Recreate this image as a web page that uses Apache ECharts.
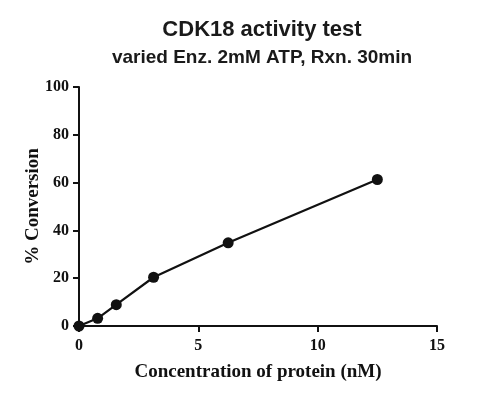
<!DOCTYPE html>
<html>
<head>
<meta charset="utf-8">
<script src="https://cdn.jsdelivr.net/npm/echarts@6/dist/echarts.min.js"></script>
<style>
	html, body { margin: 0; padding: 0; background: #fff; }
	#chart { width: 491px; height: 410px; }
</style>
</head>
<body>
<div id="chart"></div>
<script>
'use strict';
// enzyme concentration (nM) and % conversion
var concentrations = [0, 0.78125, 1.5625, 3.125, 6.25, 12.5],
		conversions = [0, 3.2, 8.9, 20.4, 34.8, 61.3],
		xTicks = [0, 5, 10, 15],
		yTicks = [0, 20, 40, 60, 80, 100];

var serif = '"Liberation Serif", "Times New Roman", serif',
		sans = '"Liberation Sans", Arial, sans-serif';

var chart = echarts.init(document.getElementById('chart'));

var points = concentrations.map(function (c, i) {
	return [c, conversions[i]];
});

var axisCommon = {
	axisLine: { show: true, lineStyle: { color: '#111', width: 2 } },
	axisTick: { show: true, length: 6, lineStyle: { color: '#111', width: 2 } },
	splitLine: { show: false },
	axisLabel: {
		color: '#111',
		fontFamily: serif,
		fontWeight: 'bold',
		fontSize: 16
	},
	nameTextStyle: {
		color: '#111',
		fontFamily: serif,
		fontWeight: 'bold',
		fontSize: 19
	}
};

chart.setOption({
	animation: false,
	title: {
		text: 'CDK18 activity test',
		subtext: 'varied Enz. 2mM ATP, Rxn. 30min',
		left: 257,
		top: 14,
		textAlign: 'center',
		itemGap: 7,
		textStyle: { color: '#1a1a1a', fontFamily: sans, fontWeight: 'bold', fontSize: 22 },
		subtextStyle: { color: '#1a1a1a', fontFamily: sans, fontWeight: 'bold', fontSize: 19 }
	},
	grid: { left: 79, right: 54, top: 87, bottom: 84, containLabel: false },
	xAxis: echarts.util.merge({
		type: 'value',
		min: xTicks[0],
		max: xTicks[xTicks.length - 1],
		interval: xTicks[1] - xTicks[0],
		name: 'Concentration of protein (nM)',
		nameLocation: 'middle',
		nameGap: 37,
		nameMoveOverlap: false,
		axisLabel: { margin: 12 }
	}, axisCommon),
	yAxis: echarts.util.merge({
		type: 'value',
		min: yTicks[0],
		max: yTicks[yTicks.length - 1],
		interval: yTicks[1] - yTicks[0],
		name: '% Conversion',
		nameLocation: 'middle',
		nameGap: 36,
		nameMoveOverlap: false,
		axisLabel: { margin: 10 }
	}, axisCommon),
	series: [
		{
			type: 'line',
			data: points,
			symbol: 'circle',
			symbolSize: 11,
			lineStyle: { color: '#111', width: 2.2 },
			itemStyle: { color: '#111' },
			clip: false
		}
	]
});
</script>
</body>
</html>
